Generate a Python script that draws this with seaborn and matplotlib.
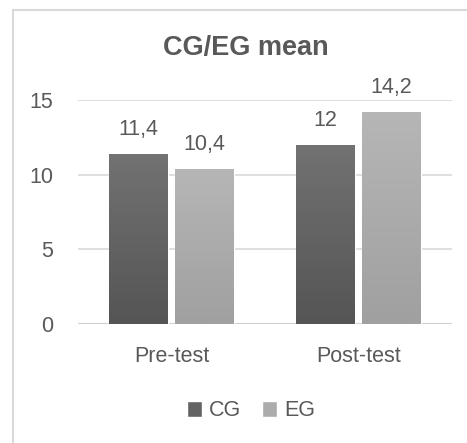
import numpy as np
import pandas as pd
import matplotlib
matplotlib.use("Agg")
import matplotlib.pyplot as plt
from matplotlib.patches import Rectangle
import seaborn as sns

categories = ["Pre-test", "Post-test"]
groups = ["CG", "EG"]
cg_values = [11.4, 12]
eg_values = [10.4, 14.2]
yticks = [0, 5, 10, 15]

df = pd.DataFrame({
    "test": categories * 2,
    "group": ["CG"] * len(categories) + ["EG"] * len(categories),
    "mean": cg_values + eg_values,
})

sns.set_style("white")
plt.rcParams["font.family"] = ["Liberation Sans Narrow", "Liberation Sans", "DejaVu Sans"]
text_col = "#595959"
fs = 15.5

fig = plt.figure(figsize=(4.67, 4.43), dpi=100)
ax = fig.add_axes([0.167, 0.2686, 0.801, 0.5057])

colors = {"CG": "#636363", "EG": "#acacac"}
grad = {"CG": ("#727272", "#555555"), "EG": ("#b6b6b6", "#a0a0a0")}

sns.barplot(data=df, x="test", y="mean", hue="group", hue_order=groups,
            palette=colors, width=0.7, gap=0.1, ax=ax, zorder=3)

# vertical gradient fill on each bar
for container, g in zip(ax.containers, groups):
    top, bot = matplotlib.colors.to_rgb(grad[g][0]), matplotlib.colors.to_rgb(grad[g][1])
    cmap = matplotlib.colors.LinearSegmentedColormap.from_list(g, [bot, top])
    for bar in container:
        x0 = bar.get_x()
        w = bar.get_width()
        h = bar.get_height()
        img = ax.imshow(np.linspace(0, 1, 100).reshape(-1, 1), cmap=cmap,
                        extent=(x0, x0 + w, 0, h), origin="lower",
                        aspect="auto", zorder=3.5)
        img.set_clip_path(bar)

    labels = [f"{v:g}".replace(".", ",") for v in container.datavalues]
    ax.bar_label(container, labels=labels, padding=10, fontsize=fs, color=text_col)

ax.set_ylim(0, 15)
ax.set_xlim(-0.5, 1.5)

ax.set_yticks(yticks)
ax.yaxis.grid(True, color="#d9d9d9", linewidth=1.2, zorder=0)
ax.set_axisbelow(True)
for s in ["top", "right", "left", "bottom"]:
    ax.spines[s].set_visible(False)
ax.axhline(0, color="#d0d0d0", linewidth=1.5, zorder=2)
ax.tick_params(axis="both", length=0, labelsize=fs, labelcolor=text_col)
ax.tick_params(axis="y", pad=18)
ax.tick_params(axis="x", pad=16)
ax.set_xlabel("")
ax.set_ylabel("")

fig.text(246 / 467, 1 - 48 / 443, "CG/EG mean", ha="center", va="center",
         fontsize=19.5, fontweight="bold", color=text_col)

sns.move_legend(ax, "center", bbox_to_anchor=(251 / 467, 1 - 411 / 443),
                bbox_transform=fig.transFigure, ncol=2, frameon=False,
                title=None, fontsize=fs, handlelength=0.7, handleheight=0.7,
                handletextpad=0.3, columnspacing=1.0, labelcolor=text_col)

# chart area border (only left/top visible in the crop)
fig.patches.append(Rectangle((13 / 467, -0.1), 1.2, 1 - 10 / 443 + 0.1,
                             transform=fig.transFigure, fill=False,
                             edgecolor="#d9d9d9", linewidth=1.5))

fig.savefig("out.png", dpi=100)
